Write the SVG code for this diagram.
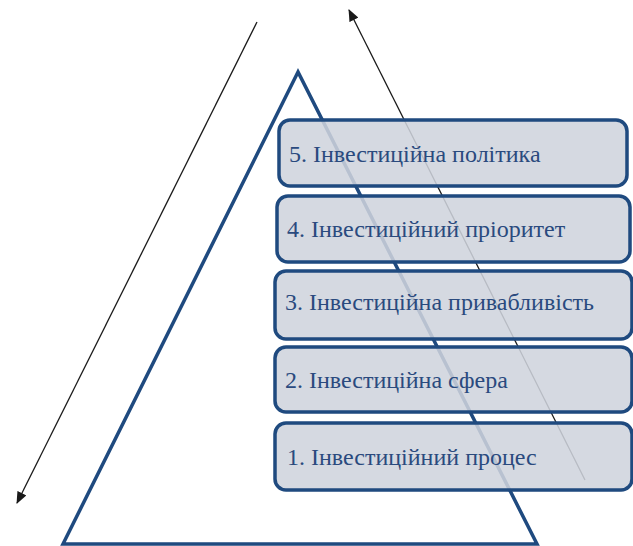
<svg xmlns="http://www.w3.org/2000/svg" width="633" height="546" viewBox="0 0 633 546">
<style>
.box{fill:#cfd3dc;fill-opacity:0.87;stroke:#1f4a7f;stroke-width:3.5}
.lbl{font-family:"Liberation Serif","Times New Roman","DejaVu Serif",serif;font-size:24px;fill:#2a4a7e}
.arr{stroke:#1a1a1a;stroke-width:1.3;fill:none;marker-end:url(#ah)}
</style>
<defs>
<marker id="ah" viewBox="0 0 12 10" refX="11" refY="5" markerWidth="12" markerHeight="10" markerUnits="userSpaceOnUse" orient="auto">
<path d="M0,0 L12,5 L0,10 z" fill="#1a1a1a"/>
</marker>
</defs>
<g id="pyramid">
<polygon points="298,72 63,544 537,544" fill="none" stroke="#1f4a7f" stroke-width="3.5" stroke-linejoin="miter"/>
</g>
<g id="connectors">
<line class="arr" x1="257" y1="22" x2="17" y2="503"/>
<line class="arr" x1="585" y1="480" x2="349" y2="10"/>
</g>
<g id="level5"><rect class="box" x="279" y="120" width="348" height="66" rx="11"/><text class="lbl" x="289" y="162">5. Інвестиційна політика</text></g>
<g id="level4"><rect class="box" x="277" y="196" width="353" height="66" rx="11"/><text class="lbl" x="287" y="237">4. Інвестиційний пріоритет</text></g>
<g id="level3"><rect class="box" x="275" y="271" width="357" height="68" rx="11"/><text class="lbl" x="285" y="310">3. Інвестиційна привабливість</text></g>
<g id="level2"><rect class="box" x="275" y="347" width="357" height="65" rx="11"/><text class="lbl" x="285" y="388">2. Інвестиційна сфера</text></g>
<g id="level1"><rect class="box" x="275" y="423" width="357" height="67" rx="11"/><text class="lbl" x="287" y="465">1. Інвестиційний процес</text></g>
</svg>
